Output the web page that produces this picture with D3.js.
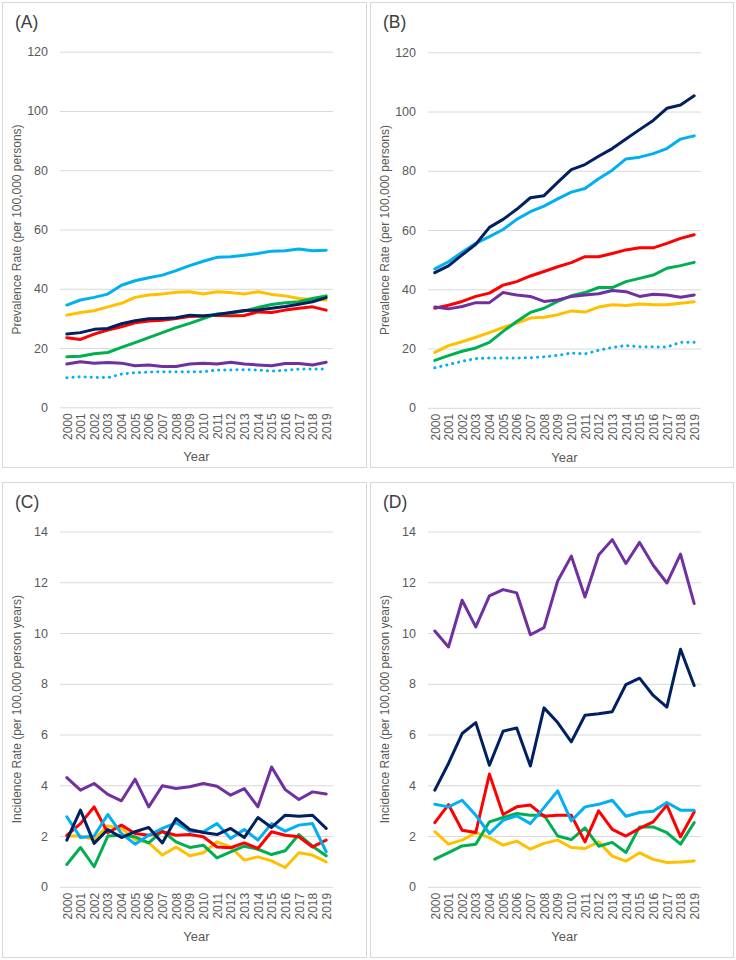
<!DOCTYPE html>
<html>
<head>
<meta charset="utf-8">
<script src="https://cdn.jsdelivr.net/npm/d3@7"></script>
<style>
  html, body { margin: 0; padding: 0; background: #fff; }
  svg { display: block; font-family: "Liberation Sans", Arial, sans-serif; }
</style>
</head>
<body>
<svg id="chart" width="736" height="960"></svg>
<script>
const years = ["2000","2001","2002","2003","2004","2005","2006","2007","2008","2009",
               "2010","2011","2012","2013","2014","2015","2016","2017","2018","2019"];

// Panel A – prevalence
const aLightBlue = [34.5,36.2,37.1,38.2,41.2,42.7,43.7,44.6,46.1,47.8,49.3,50.6,50.8,51.3,51.9,52.7,52.8,53.4,52.8,53.0];
const aNavy      = [24.7,25.2,26.3,26.6,28.2,29.2,29.9,30.0,30.2,31.1,30.8,31.3,32.0,32.7,32.8,33.4,34.0,34.8,35.6,37.0];
const aRed       = [23.5,22.9,24.7,26.1,27.2,28.5,29.1,29.4,30.0,30.6,30.8,31.1,30.9,31.0,32.2,32.0,32.8,33.4,33.9,32.8];
const aYellow    = [31.1,32.0,32.6,33.9,35.1,37.1,37.9,38.2,38.8,39.0,38.2,39.0,38.7,38.2,39.0,38.1,37.6,36.7,36.4,36.2];
const aGreen     = [17.1,17.2,18.1,18.5,20.2,21.8,23.5,25.2,26.9,28.3,29.9,31.5,31.7,32.5,33.7,34.7,35.3,35.6,36.7,37.6];
const aPurple    = [14.6,15.4,14.9,15.1,14.9,14.0,14.3,13.8,13.8,14.6,14.9,14.6,15.2,14.6,14.3,14.0,14.8,14.8,14.3,15.2];
const aDotted    = [10.0,10.3,10.1,10.0,11.2,11.7,11.9,12.0,12.0,12.0,12.0,12.6,12.6,12.7,12.6,12.2,12.5,12.9,12.9,12.9];

// Panel B – prevalence
const bLightBlue = [46.9,49.3,52.5,55.5,57.8,60.2,63.6,66.2,68.1,70.5,72.8,74.0,77.3,80.2,84.0,84.6,85.8,87.5,90.7,91.8];
const bNavy      = [45.6,47.9,51.6,55.2,60.9,63.6,67.0,70.9,71.6,76.1,80.4,82.1,84.9,87.5,90.7,93.9,97.0,101.1,102.2,105.3];
const bRed       = [33.6,34.6,35.9,37.6,38.7,41.4,42.6,44.5,46.0,47.6,49.0,51.0,51.0,52.1,53.3,54.0,54.0,55.5,57.2,58.4];
const bYellow    = [18.7,21.0,22.3,23.8,25.4,27.1,28.6,30.3,30.6,31.4,32.7,32.3,34.0,34.8,34.5,35.0,34.8,34.8,35.3,35.8];
const bGreen     = [16.0,17.6,19.1,20.2,22.1,25.8,29.1,32.2,33.6,35.9,37.8,38.9,40.6,40.6,42.6,43.7,44.8,47.1,48.0,49.1];
const bPurple    = [34.0,33.4,34.2,35.5,35.5,38.9,38.1,37.6,35.9,36.4,37.6,38.1,38.5,39.6,39.2,37.6,38.3,38.1,37.3,38.1];
const bDotted    = [13.5,14.6,15.7,16.6,16.8,16.8,16.8,16.9,17.2,17.7,18.5,18.2,19.4,20.4,21.0,20.6,20.6,20.5,22.1,22.1];

// Panel C – incidence
const cLightBlue = [2.76,1.94,2.00,2.85,2.10,1.68,2.03,2.30,2.52,2.19,2.17,2.49,1.90,2.26,1.84,2.49,2.19,2.43,2.49,1.38];
const cNavy      = [1.84,3.02,1.71,2.26,1.94,2.17,2.34,1.73,2.69,2.26,2.14,2.06,2.30,1.94,2.73,2.34,2.82,2.78,2.82,2.30];
const cRed       = [2.03,2.49,3.15,2.13,2.43,2.10,2.03,2.17,2.03,2.06,1.97,1.57,1.54,1.73,1.51,2.17,2.03,1.97,1.57,1.84];
const cYellow    = [2.00,2.00,1.86,2.40,2.30,1.86,1.73,1.25,1.57,1.22,1.34,1.77,1.57,1.05,1.18,1.02,0.76,1.34,1.25,0.98];
const cGreen     = [0.88,1.55,0.79,2.00,2.03,1.97,1.73,2.20,1.77,1.55,1.64,1.14,1.38,1.60,1.48,1.27,1.42,2.06,1.60,1.22];
const cPurple    = [4.30,3.81,4.07,3.64,3.39,4.24,3.15,3.98,3.87,3.94,4.07,3.96,3.61,3.87,3.15,4.72,3.83,3.44,3.74,3.66];

// Panel D – incidence
const dLightBlue = [3.25,3.15,3.41,2.82,2.10,2.62,2.80,2.49,3.12,3.78,2.60,3.15,3.25,3.41,2.78,2.93,2.98,3.32,3.02,3.02];
const dNavy      = [3.81,4.86,6.04,6.47,4.79,6.13,6.26,4.76,7.05,6.47,5.71,6.76,6.82,6.90,7.97,8.22,7.54,7.08,9.36,7.93];
const dRed       = [2.53,3.24,2.23,2.14,4.44,2.85,3.15,3.22,2.78,2.82,2.82,1.77,2.99,2.26,2.00,2.30,2.56,3.22,1.97,2.95];
const dYellow    = [2.17,1.68,1.84,2.13,1.94,1.64,1.80,1.48,1.71,1.84,1.55,1.51,1.77,1.21,1.01,1.34,1.08,0.96,0.98,1.02];
const dGreen     = [1.09,1.35,1.61,1.68,2.56,2.73,2.89,2.82,2.82,2.00,1.86,2.32,1.60,1.75,1.35,2.36,2.36,2.13,1.68,2.53];
const dPurple    = [10.08,9.45,11.29,10.24,11.46,11.71,11.58,9.93,10.21,12.05,13.03,11.42,13.07,13.68,12.74,13.57,12.67,11.97,13.11,11.16];

const prevTicks = [0,20,40,60,80,100,120];
const incTicks  = [0,2,4,6,8,10,12,14];

const colors = {
  lightBlue: "#00B0F0", navy: "#002060", red: "#FF0000",
  yellow: "#FFC000", green: "#00B050", purple: "#7030A0"
};

const panels = [
  { label: "(A)", ox: 0,   oy: 0,   w: 364, h: 465, yMax: 120, ticks: prevTicks,
    yTitle: "Prevalence Rate (per 100,000 persons)", y0: 407.3, yTop: 51.7,
    series: [
      {v: aLightBlue, c: colors.lightBlue}, {v: aYellow, c: colors.yellow},
      {v: aRed, c: colors.red}, {v: aGreen, c: colors.green},
      {v: aNavy, c: colors.navy}, {v: aPurple, c: colors.purple},
      {v: aDotted, c: colors.lightBlue, dotted: true}] },
  { label: "(B)", ox: 368, oy: 0,   w: 363, h: 465, yMax: 120, ticks: prevTicks,
    yTitle: "Prevalence Rate (per 100,000 persons)", y0: 407.8, yTop: 52.3,
    series: [
      {v: bYellow, c: colors.yellow}, {v: bGreen, c: colors.green},
      {v: bRed, c: colors.red}, {v: bPurple, c: colors.purple},
      {v: bLightBlue, c: colors.lightBlue}, {v: bNavy, c: colors.navy},
      {v: bDotted, c: colors.lightBlue, dotted: true}] },
  { label: "(C)", ox: 0,   oy: 480, w: 364, h: 475, yMax: 14, ticks: incTicks,
    yTitle: "Incidence Rate (per 100,000 person years)", y0: 406.8, yTop: 51.5,
    series: [
      {v: cYellow, c: colors.yellow}, {v: cGreen, c: colors.green},
      {v: cRed, c: colors.red}, {v: cLightBlue, c: colors.lightBlue},
      {v: cNavy, c: colors.navy}, {v: cPurple, c: colors.purple}] },
  { label: "(D)", ox: 368, oy: 480, w: 363, h: 475, yMax: 14, ticks: incTicks,
    yTitle: "Incidence Rate (per 100,000 person years)", y0: 406.8, yTop: 51.5,
    series: [
      {v: dYellow, c: colors.yellow}, {v: dGreen, c: colors.green},
      {v: dRed, c: colors.red}, {v: dLightBlue, c: colors.lightBlue},
      {v: dNavy, c: colors.navy}, {v: dPurple, c: colors.purple}] }
];

const svg = d3.select("#chart");
const plotL = 60, plotR = 333;
const textColor = "#595959";

panels.forEach(p => {
  const g = svg.append("g").attr("transform", `translate(${p.ox},${p.oy})`);

  g.append("rect")
    .attr("x", 2.5).attr("y", 2.5).attr("width", p.w).attr("height", p.h)
    .attr("fill", "#fff").attr("stroke", "#d9d9d9").attr("stroke-width", 1);

  const x = d3.scalePoint().domain(years).range([plotL, plotR]).padding(0.5);
  const y = d3.scaleLinear().domain([0, p.yMax]).range([p.y0, p.yTop]);

  // y axis with gridlines
  const yAxis = g.append("g")
    .attr("transform", `translate(${plotL},0)`)
    .call(d3.axisLeft(y).tickValues(p.ticks).tickSizeInner(-(plotR - plotL)).tickSizeOuter(0).tickPadding(12));
  yAxis.select(".domain").remove();
  yAxis.selectAll(".tick line").attr("stroke", "#d9d9d9").attr("stroke-width", 1);
  yAxis.selectAll(".tick text").attr("fill", textColor).attr("font-size", 12.5)
    .attr("font-family", "'Liberation Sans', Arial, sans-serif");

  // x axis
  const xAxis = g.append("g")
    .attr("transform", `translate(0,${p.y0})`)
    .call(d3.axisBottom(x).tickSize(0).tickPadding(0));
  xAxis.select(".domain").remove();
  xAxis.selectAll(".tick text")
    .attr("fill", textColor).attr("font-size", 12)
    .attr("font-family", "'Liberation Sans', Arial, sans-serif")
    .attr("transform", "rotate(-90)")
    .attr("text-anchor", "end")
    .attr("x", -6).attr("y", 0).attr("dy", "0.35em");

  // axis titles
  g.append("text")
    .attr("x", (plotL + plotR) / 2).attr("y", p.y0 + 54)
    .attr("text-anchor", "middle").attr("fill", textColor).attr("font-size", 13)
    .text("Year");

  g.append("text")
    .attr("transform", `translate(21,${(p.y0 + p.yTop) / 2}) rotate(-90)`)
    .attr("text-anchor", "middle").attr("fill", textColor).attr("font-size", 12)
    .text(p.yTitle);

  // panel label
  g.append("text")
    .attr("x", 15).attr("y", 28)
    .attr("fill", "#404040").attr("font-size", 17.5)
    .text(p.label);

  // lines
  const line = d3.line()
    .x((d, i) => x(years[i]))
    .y(d => y(d));

  p.series.forEach(s => {
    const path = g.append("path")
      .datum(s.v)
      .attr("d", line)
      .attr("fill", "none")
      .attr("stroke", s.c)
      .attr("stroke-width", 3)
      .attr("stroke-linejoin", "round");
    if (s.dotted) {
      path.attr("stroke-dasharray", "0.1 6").attr("stroke-linecap", "round");
    } else {
      path.attr("stroke-linecap", "round");
    }
  });
});
</script>
</body>
</html>
